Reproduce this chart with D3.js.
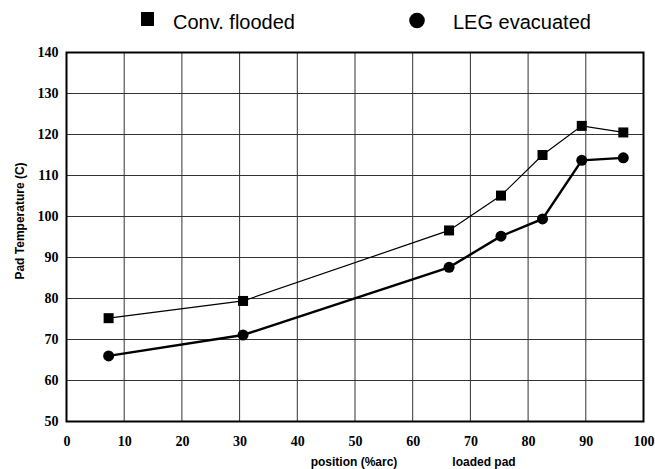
<!DOCTYPE html>
<html><head><meta charset="utf-8">
<script src="https://cdn.jsdelivr.net/npm/d3@7"></script>
<style>body{margin:0;background:#fff}svg{display:block}</style>
</head><body>
<script>
const positions = [7.3, 30.6, 66.3, 75.3, 82.5, 89.3, 96.5];
const convFlooded = [75.2, 79.4, 96.6, 105.1, 115.0, 122.1, 120.5];
const legEvacuated = [66.0, 71.1, 87.6, 95.2, 99.4, 113.7, 114.3];
const xTicks = [0,10,20,30,40,50,60,70,80,90,100];
const yTicks = [50,60,70,80,90,100,110,120,130,140];
const seriesNames = ["Conv. flooded", "LEG evacuated"];

const W = 655, H = 469;
const svg = d3.select("body").append("svg").attr("width", W).attr("height", H);
const x = d3.scaleLinear().domain([0,100]).range([66.5, 643.5]);
const y = d3.scaleLinear().domain([50,140]).range([421.5, 52.5]);

// gridlines
svg.append("g").selectAll("line.v").data(xTicks.slice(1,-1)).join("line")
  .attr("x1", d=>x(d)).attr("x2", d=>x(d)).attr("y1", y(140)).attr("y2", y(50))
  .attr("stroke", "#333").attr("stroke-width", 1);
svg.append("g").selectAll("line.h").data(yTicks.slice(1,-1)).join("line")
  .attr("x1", x(0)).attr("x2", x(100)).attr("y1", d=>y(d)).attr("y2", d=>y(d))
  .attr("stroke", "#333").attr("stroke-width", 1);

// border
svg.append("rect").attr("x", x(0)).attr("y", y(140)).attr("width", x(100)-x(0)).attr("height", y(50)-y(140))
  .attr("fill", "none").attr("stroke", "#000").attr("stroke-width", 2);

// axes labels
const xAxis = d3.axisBottom(x).tickValues(xTicks).tickSize(0).tickPadding(0);
const gx = svg.append("g").attr("transform", `translate(0,${y(50)+24})`).call(xAxis);
gx.select(".domain").remove();
gx.selectAll("text").attr("font-family", "Liberation Serif, serif").attr("font-weight", "bold")
  .attr("font-size", 14).attr("fill", "#000").attr("dy", 0);

const yAxis = d3.axisLeft(y).tickValues(yTicks).tickSize(0).tickPadding(0);
const gy = svg.append("g").attr("transform", `translate(${x(0)-8},0)`).call(yAxis);
gy.select(".domain").remove();
gy.selectAll("text").attr("font-family", "Liberation Serif, serif").attr("font-weight", "bold")
  .attr("font-size", 14).attr("fill", "#000").attr("dy", "0.32em");

// axis titles
svg.append("text").attr("x", 354).attr("y", 466).attr("text-anchor", "middle")
  .attr("font-family", "Liberation Sans, Arial, sans-serif").attr("font-weight", "bold").attr("font-size", 12)
  .text("position (%arc)");
svg.append("text").attr("x", 484).attr("y", 466).attr("text-anchor", "middle")
  .attr("font-family", "Liberation Sans, Arial, sans-serif").attr("font-weight", "bold").attr("font-size", 12)
  .text("loaded pad");
svg.append("text").attr("transform", `translate(24,221) rotate(-90)`).attr("text-anchor", "middle")
  .attr("font-family", "Liberation Sans, Arial, sans-serif").attr("font-weight", "bold").attr("font-size", 12)
  .text("Pad Temperature (C)");

// lines
const line = d3.line().x(d=>x(d[0])).y(d=>y(d[1]));
const convData = positions.map((p,i)=>[p, convFlooded[i]]);
const legData = positions.map((p,i)=>[p, legEvacuated[i]]);
svg.append("path").datum(convData).attr("d", line).attr("fill","none").attr("stroke","#000").attr("stroke-width",1.2);
svg.append("path").datum(legData).attr("d", line).attr("fill","none").attr("stroke","#000").attr("stroke-width",2.4);

svg.append("g").selectAll("rect").data(convData).join("rect")
  .attr("x", d=>x(d[0])-5).attr("y", d=>y(d[1])-5).attr("width",10).attr("height",10).attr("fill","#000");
svg.append("g").selectAll("circle").data(legData).join("circle")
  .attr("cx", d=>x(d[0])).attr("cy", d=>y(d[1])).attr("r",5.5).attr("fill","#000");

// legend
svg.append("rect").attr("x",141).attr("y",12).attr("width",13).attr("height",14).attr("fill","#000");
svg.append("text").attr("x",173).attr("y",29).attr("font-family","Liberation Sans, Arial, sans-serif")
  .attr("font-size",20).text(seriesNames[0]);
svg.append("circle").attr("cx",417).attr("cy",20.5).attr("r",7.8).attr("fill","#000");
svg.append("text").attr("x",453).attr("y",29).attr("font-family","Liberation Sans, Arial, sans-serif")
  .attr("font-size",20).text(seriesNames[1]);
</script>
</body></html>
